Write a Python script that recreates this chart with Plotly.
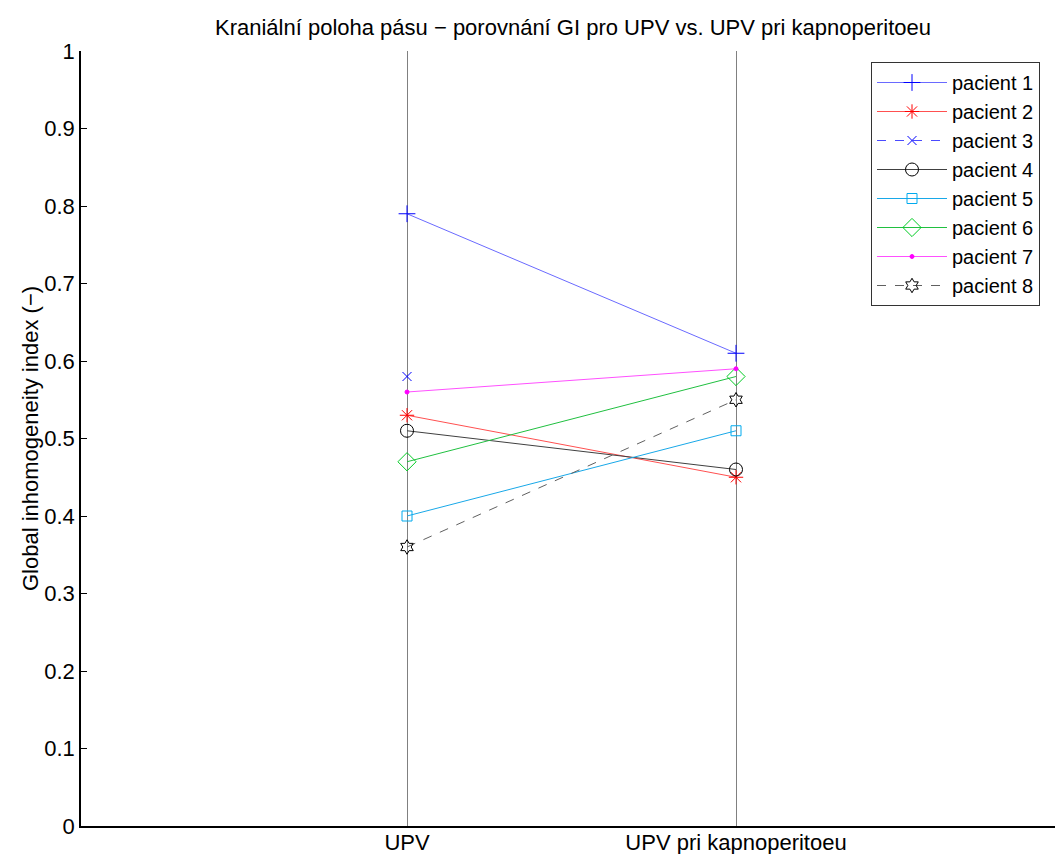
import plotly.graph_objects as go

categories = [1, 2]
category_labels = ["UPV", "UPV pri kapnoperitoeu"]

patients = ["pacient 1", "pacient 2", "pacient 3", "pacient 4",
            "pacient 5", "pacient 6", "pacient 7", "pacient 8"]
p1 = [0.79, 0.61]
p2 = [0.53, 0.45]
p3 = [0.58, None]
p4 = [0.51, 0.46]
p5 = [0.40, 0.51]
p6 = [0.47, 0.58]
p7 = [0.56, 0.59]
p8 = [0.36, 0.55]
values = [p1, p2, p3, p4, p5, p6, p7, p8]

colors = ["#0000ff", "#ff0000", "#0000ff", "#000000",
          "#00aaee", "#00cc22", "#ff00ff", "#000000"]
line_colors = ["#6a6aff", "#ff5050", "#4a4aff", "#404040",
               "#18a8e8", "#20c040", "#ff50ff", "#606060"]
symbols = ["cross-thin-open", "asterisk-open", "x-thin-open", "circle-open",
           "square-open", "diamond-open", "circle", "hexagram-open"]
sizes = [12, 12, 9, 13, 10, 14, 4, 11]
dashes = ["solid", "solid", "dash", "solid", "solid", "solid", "solid", "dash"]

fig = go.Figure()
for name, vals, c, lc, sym, sz, d in zip(patients, values, colors, line_colors,
                                          symbols, sizes, dashes):
    fig.add_trace(go.Scatter(
        x=categories, y=vals, name=name, mode="lines+markers",
        line=dict(color=lc, width=1, dash=d),
        marker=dict(symbol=sym, size=sz, color=c,
                    line=dict(color=c, width=1)),
        connectgaps=False,
    ))

font = "Liberation Sans, Arial, sans-serif"
fs = 22
fig.update_layout(
    width=1055, height=854,
    margin=dict(l=81, r=0, t=51, b=28, autoexpand=False),
    paper_bgcolor="white", plot_bgcolor="white",
    font=dict(family=font, size=fs, color="#000000"),
    title=dict(text="Kraniální poloha pásu − porovnání GI pro UPV vs. UPV pri kapnoperitoeu",
               x=573 / 1055, xanchor="center", y=1 - 27 / 854, yanchor="middle",
               font=dict(size=fs, family=font, color="#000000")),
    showlegend=True,
    legend=dict(x=(871 - 81) / 974, y=(826 - 62) / 775, xanchor="left", yanchor="top",
                bgcolor="white", bordercolor="#333333", borderwidth=1,
                font=dict(size=20, family=font, color="#000000"),
                itemwidth=70, tracegroupgap=0),
    xaxis=dict(range=[1 - 326 / 329, 1 + (1055 - 407) / 329],
               tickvals=categories, ticktext=category_labels,
               showgrid=True, gridcolor="#808080", gridwidth=1,
               showline=True, linecolor="#000000", linewidth=1.5,
               ticks="", zeroline=False, tickfont=dict(size=fs),
               ticklabelstandoff=-4,
               automargin=False, fixedrange=True),
    yaxis=dict(range=[0, 1], dtick=0.1, tick0=0, showgrid=False,
               showline=True, linecolor="#000000", linewidth=1.5,
               ticks="inside", ticklen=6, tickcolor="#000000", zeroline=False,
               tickfont=dict(size=fs), automargin=False,
               title=dict(text="Global inhomogeneity index (−)", standoff=0,
                          font=dict(size=fs))),
)

fig.write_html("out.html")
